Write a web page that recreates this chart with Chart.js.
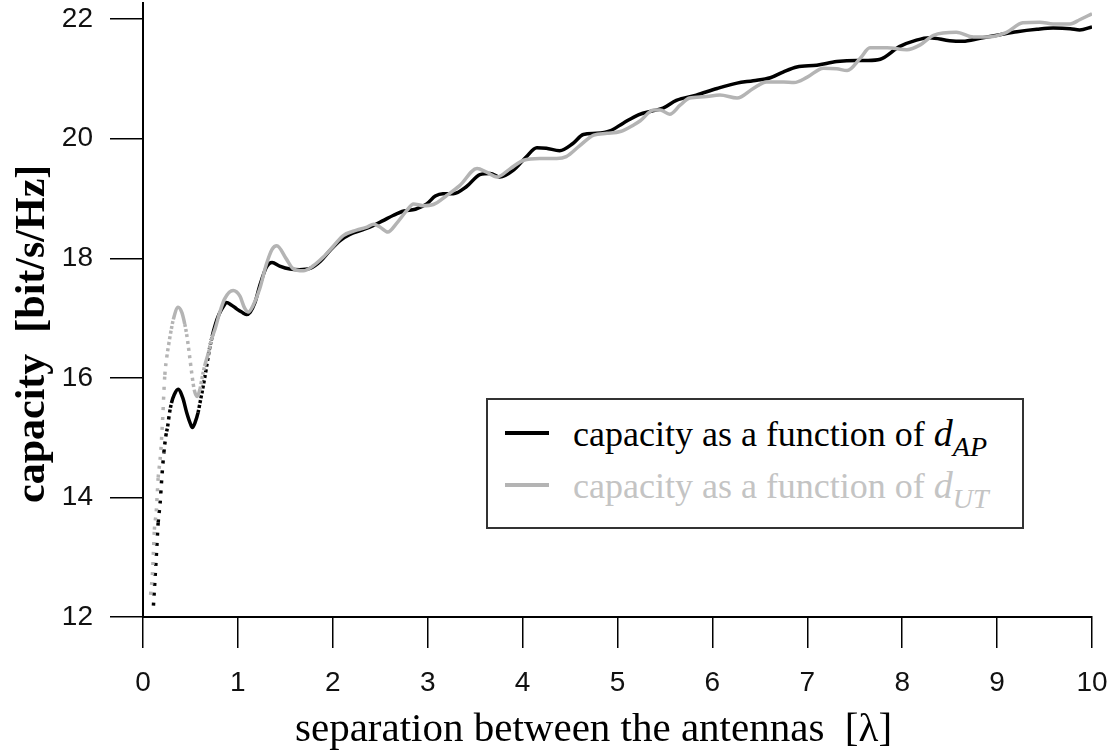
<!DOCTYPE html>
<html>
<head>
<meta charset="utf-8">
<script src="https://cdn.jsdelivr.net/npm/chart.js@4.4.1/dist/chart.umd.min.js"></script>
<style>
  body { margin: 0; background: #fff; }
  #wrap { position: relative; width: 1115px; height: 755px; }
  #legend {
    position: absolute; left: 486px; top: 398px; width: 534px; height: 127px;
    border: 2px solid #333; background: #fff;
    font-family: 'Liberation Serif', serif; font-size: 36px;
  }
  .row { position: absolute; left: 0; height: 44px; line-height: 44px; white-space: nowrap; }
  .swatch { position: absolute; left: 17px; top: 20px; width: 44px; height: 4px; }
  .label { position: absolute; left: 85px; top: 0; }
  .label i { font-size: 38px; }
  .label sub { font-size: 28px; font-style: italic; vertical-align: -10px; }
</style>
</head>
<body>
<div id="wrap">
  <canvas id="capChart" width="1115" height="755"></canvas>
  <div id="legend">
    <div class="row" style="top:11px"><span class="swatch" style="background:#000"></span><span class="label" style="color:#000">capacity as a function of <i>d</i><sub>AP</sub></span></div>
    <div class="row" style="top:63px"><span class="swatch" style="background:#b4b4b4"></span><span class="label" style="color:#c4c4c4">capacity as a function of <i>d</i><sub>UT</sub></span></div>
  </div>
</div>
<script>
// capacity vs. separation, d_AP (black)
const apX = [0.11, 0.14, 0.16, 0.18, 0.20, 0.22, 0.24, 0.26, 0.28, 0.30, 0.33, 0.37, 0.42, 0.46, 0.50, 0.52, 0.55, 0.58, 0.61, 0.64,
  0.67, 0.70, 0.73, 0.76, 0.80, 0.85, 0.88, 0.93, 0.99, 1.04, 1.09, 1.13, 1.18, 1.23, 1.30, 1.36, 1.44, 1.55, 1.65, 1.76,
  1.87, 1.97, 2.08, 2.18, 2.32, 2.43, 2.53, 2.64, 2.75, 2.87, 2.99, 3.08, 3.16, 3.27, 3.41, 3.55, 3.66, 3.76, 3.90, 4.04,
  4.15, 4.25, 4.39, 4.53, 4.64, 4.78, 4.92, 5.06, 5.22, 5.38, 5.48, 5.62, 5.83, 6.05, 6.26, 6.43, 6.61, 6.75, 6.89, 7.10,
  7.31, 7.52, 7.64, 7.77, 7.97, 8.15, 8.29, 8.50, 8.64, 8.82, 9.03, 9.21, 9.42, 9.59, 9.77, 9.87, 10.0];
const apY = [12.19, 13.01, 13.58, 13.90, 14.37, 14.75, 15.02, 15.19, 15.42, 15.58, 15.72, 15.81, 15.66, 15.42, 15.23, 15.17, 15.26, 15.42, 15.66, 15.91,
  16.19, 16.48, 16.70, 16.88, 17.06, 17.20, 17.26, 17.22, 17.15, 17.10, 17.06, 17.10, 17.26, 17.54, 17.85, 17.93, 17.87, 17.82, 17.81, 17.83,
  17.95, 18.13, 18.30, 18.40, 18.48, 18.55, 18.63, 18.72, 18.79, 18.82, 18.91, 19.04, 19.08, 19.08, 19.20, 19.40, 19.42, 19.36, 19.47, 19.70,
  19.85, 19.84, 19.80, 19.92, 20.07, 20.09, 20.13, 20.26, 20.40, 20.47, 20.51, 20.64, 20.73, 20.84, 20.93, 20.97, 21.02, 21.12, 21.20, 21.23,
  21.29, 21.31, 21.31, 21.33, 21.54, 21.65, 21.69, 21.64, 21.63, 21.68, 21.74, 21.79, 21.83, 21.85, 21.84, 21.82, 21.87];

// capacity vs. separation, d_UT (grey)
const utX = [0.08, 0.10, 0.11, 0.12, 0.14, 0.15, 0.16, 0.18, 0.19, 0.20, 0.21, 0.22, 0.23, 0.25, 0.27, 0.29, 0.32, 0.37, 0.41, 0.44,
  0.46, 0.48, 0.50, 0.52, 0.54, 0.57, 0.60, 0.62, 0.65, 0.69, 0.72, 0.76, 0.81, 0.86, 0.95, 1.02, 1.07, 1.11, 1.16, 1.23,
  1.30, 1.36, 1.41, 1.51, 1.58, 1.69, 1.79, 1.90, 2.01, 2.11, 2.25, 2.36, 2.43, 2.50, 2.58, 2.67, 2.78, 2.85, 2.95, 3.06,
  3.20, 3.34, 3.52, 3.62, 3.73, 3.87, 4.01, 4.18, 4.36, 4.46, 4.60, 4.75, 4.89, 5.03, 5.17, 5.24, 5.38, 5.45, 5.55, 5.66,
  5.76, 5.91, 6.08, 6.26, 6.43, 6.57, 6.75, 6.86, 7.00, 7.17, 7.31, 7.42, 7.56, 7.66, 7.84, 8.05, 8.19, 8.33, 8.57, 8.75,
  8.89, 9.10, 9.27, 9.45, 9.59, 9.77, 9.87, 10.0];
const utY = [12.37, 12.74, 13.10, 13.46, 13.77, 14.05, 14.33, 14.63, 14.83, 15.11, 15.40, 15.76, 16.05, 16.34, 16.55, 16.74, 16.98, 17.18, 17.09, 16.90,
  16.73, 16.50, 16.25, 16.00, 15.80, 15.69, 15.81, 15.98, 16.20, 16.42, 16.63, 16.82, 17.10, 17.32, 17.46, 17.37, 17.17, 17.10, 17.21, 17.49,
  17.90, 18.15, 18.21, 17.99, 17.83, 17.79, 17.87, 18.02, 18.21, 18.38, 18.47, 18.52, 18.57, 18.52, 18.44, 18.58, 18.80, 18.91, 18.88, 18.90,
  19.05, 19.22, 19.50, 19.44, 19.36, 19.50, 19.64, 19.67, 19.67, 19.70, 19.88, 20.06, 20.09, 20.12, 20.23, 20.30, 20.48, 20.48, 20.41, 20.56,
  20.68, 20.70, 20.73, 20.68, 20.84, 20.95, 20.95, 20.94, 21.03, 21.18, 21.17, 21.14, 21.35, 21.52, 21.52, 21.49, 21.57, 21.73, 21.78, 21.70,
  21.70, 21.78, 21.94, 21.95, 21.92, 21.92, 21.99, 22.09];

const xTitle = 'separation between the antennas  [\u03bb]';
const yTitle = 'capacity  [bit/s/Hz]';

const toPoints = (xs, ys) => xs.map((x, i) => ({ x: x, y: ys[i] }));

// steep parts were plotted as separate markers in the original, so dash them
function steepDash(ctx) {
    const dx = Math.abs(ctx.p1.x - ctx.p0.x) || 0.01;
    const dy = Math.abs(ctx.p1.y - ctx.p0.y);
    const slope = dy / dx;
    if (slope < 3) return undefined;
    const gap = Math.min(7, slope * 0.95 - 3);
    return gap > 1 ? [3, gap] : undefined;
}

// axis titles placed by hand, the original has them off-centre
const axisTitles = {
    id: 'axisTitles',
    afterDraw(chart) {
        const c = chart.ctx;
        c.save();
        c.fillStyle = '#000';
        c.font = '41px "Liberation Serif"';
        c.textAlign = 'left';
        c.textBaseline = 'alphabetic';
        c.fillText(xTitle, 295, 741);
        c.translate(44, 503);
        c.rotate(-Math.PI / 2);
        c.font = 'bold 42px "Liberation Serif"';
        c.fillText(yTitle, 0, 0);
        c.restore();
    }
};

const tickFont = { family: '"Liberation Sans Narrow", "Liberation Sans"', size: 28 };

const ctx = document.getElementById('capChart').getContext('2d');
new Chart(ctx, {
    type: 'line',
    data: {
        datasets: [{
            label: 'capacity as a function of d_UT',
            data: toPoints(utX, utY),
            borderColor: '#b4b4b4',
            borderWidth: 3.5,
            pointRadius: 0,
            cubicInterpolationMode: 'monotone',
            segment: { borderDash: steepDash }
        }, {
            label: 'capacity as a function of d_AP',
            data: toPoints(apX, apY),
            borderColor: '#000',
            borderWidth: 3.5,
            pointRadius: 0,
            cubicInterpolationMode: 'monotone',
            segment: { borderDash: steepDash }
        }]
    },
    plugins: [axisTitles],
    options: {
        responsive: false,
        animation: false,
        layout: { padding: { top: 3, right: 23, bottom: 0, left: 0 } },
        plugins: { legend: { display: false }, tooltip: { enabled: false } },
        scales: {
            x: {
                type: 'linear',
                min: 0,
                max: 10,
                afterFit: scale => {
                    scale.height = 138;
                    scale.paddingLeft = 0;
                    scale.paddingRight = 0;
                },
                border: { color: '#000', width: 2 },
                grid: { drawOnChartArea: false, tickLength: 31, color: '#000', lineWidth: 1.5 },
                ticks: { stepSize: 1, padding: 18, color: '#111', font: tickFont, maxRotation: 0 }
            },
            y: {
                type: 'linear',
                min: 12,
                max: 22.27,
                afterFit: scale => {
                    scale.width = 143;
                    scale.paddingTop = 0;
                    scale.paddingBottom = 0;
                },
                border: { color: '#000', width: 2 },
                grid: { drawOnChartArea: false, tickLength: 33, color: '#000', lineWidth: 1.5 },
                ticks: { stepSize: 2, includeBounds: false, padding: 17, color: '#111', font: tickFont }
            }
        }
    }
});
</script>
</body>
</html>
